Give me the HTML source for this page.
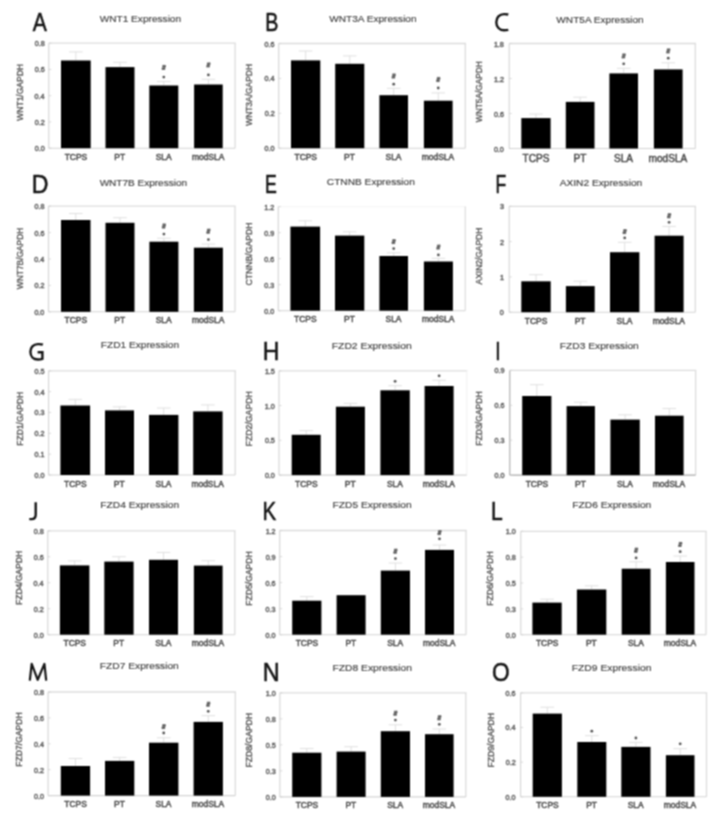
<!DOCTYPE html>
<html><head><meta charset="utf-8"><style>
html,body{margin:0;padding:0;background:#fff;}
body{width:724px;height:821px;overflow:hidden;}
svg{display:block;font-family:"Liberation Sans", sans-serif;}
#w{width:724px;height:821px;filter:grayscale(1);}
</style></head><body>
<div id="w"><svg width="724" height="821" viewBox="0 0 724 821">
<defs><filter id="bl" x="0" y="0" width="724" height="821" filterUnits="userSpaceOnUse" color-interpolation-filters="sRGB"><feConvolveMatrix order="3" kernelMatrix="1 2 1 2 4 2 1 2 1" divisor="16" edgeMode="duplicate"/></filter></defs>
<g filter="url(#bl)">
<rect width="724" height="821" fill="#fff"/>
<text transform="translate(32.85,30.85) scale(0.8301,1)" x="-0.05" y="0" font-size="25.44" fill="#141414" stroke="#141414" stroke-width="0.55">A</text>
<text transform="translate(99.7,21.8) scale(1.0387,1)" x="-0.04" y="0" font-size="9.74" fill="#404040" stroke="#404040" stroke-width="0.15">WNT1 Expression</text>
<line x1="48.8" y1="43.2" x2="235.75" y2="43.2" stroke="#dcdcdc" stroke-width="1.3"/>
<line x1="235.1" y1="43.2" x2="235.1" y2="148.2" stroke="#dcdcdc" stroke-width="1.3"/>
<line x1="48.8" y1="43.2" x2="48.8" y2="148.2" stroke="#d4d4d4" stroke-width="1.1"/>
<line x1="48.8" y1="148.2" x2="235.1" y2="148.2" stroke="#d4d4d4" stroke-width="1.1"/>
<text stroke="#5e5e5e" stroke-width="0.4" transform="translate(34.95,151.2) scale(1.120,1)" x="-0.25" y="0" font-size="6.4" fill="#5e5e5e">0.0</text>
<line x1="48.8" y1="148.2" x2="51.3" y2="148.2" stroke="#d0d0d0" stroke-width="0.8"/>
<text stroke="#5e5e5e" stroke-width="0.4" transform="translate(35.03,124.95) scale(1.120,1)" x="-0.25" y="0" font-size="6.4" fill="#5e5e5e">0.2</text>
<line x1="48.8" y1="121.95" x2="51.3" y2="121.95" stroke="#d0d0d0" stroke-width="0.8"/>
<text stroke="#5e5e5e" stroke-width="0.4" transform="translate(34.88,98.7) scale(1.120,1)" x="-0.25" y="0" font-size="6.4" fill="#5e5e5e">0.4</text>
<line x1="48.8" y1="95.7" x2="51.3" y2="95.7" stroke="#d0d0d0" stroke-width="0.8"/>
<text stroke="#5e5e5e" stroke-width="0.4" transform="translate(34.98,72.45) scale(1.120,1)" x="-0.25" y="0" font-size="6.4" fill="#5e5e5e">0.6</text>
<line x1="48.8" y1="69.45" x2="51.3" y2="69.45" stroke="#d0d0d0" stroke-width="0.8"/>
<text stroke="#5e5e5e" stroke-width="0.4" transform="translate(34.98,46.2) scale(1.120,1)" x="-0.25" y="0" font-size="6.4" fill="#5e5e5e">0.8</text>
<line x1="48.8" y1="43.2" x2="51.3" y2="43.2" stroke="#d0d0d0" stroke-width="0.8"/>
<text stroke="#4c4c4c" stroke-width="0.3" transform="translate(22.7,120.7) rotate(-90) scale(0.9459,1)" x="-0.04" y="0" font-size="9.01" fill="#4c4c4c">WNT1/GAPDH</text>
<line x1="75.85" y1="60.5" x2="75.85" y2="51.9" stroke="#e0e0e0" stroke-width="1"/>
<line x1="69.05" y1="51.9" x2="82.65" y2="51.9" stroke="#e0e0e0" stroke-width="1"/>
<rect x="61" y="60.5" width="29.7" height="87.7" fill="#000"/>
<text transform="translate(64.89,159.7) scale(0.970,1)" x="-0.2" y="0" font-size="8.7" fill="#484848" stroke="#484848" stroke-width="0.45">TCPS</text>
<line x1="120" y1="67.1" x2="120" y2="62.3" stroke="#e0e0e0" stroke-width="1"/>
<line x1="113.2" y1="62.3" x2="126.8" y2="62.3" stroke="#e0e0e0" stroke-width="1"/>
<rect x="105.5" y="67.1" width="29" height="81.1" fill="#000"/>
<text transform="translate(115.05,159.7) scale(0.970,1)" x="-0.71" y="0" font-size="8.7" fill="#484848" stroke="#484848" stroke-width="0.45">PT</text>
<line x1="163.8" y1="85.5" x2="163.8" y2="81.5" stroke="#e0e0e0" stroke-width="1"/>
<line x1="157" y1="81.5" x2="170.6" y2="81.5" stroke="#e0e0e0" stroke-width="1"/>
<rect x="149.3" y="85.5" width="29" height="62.7" fill="#000"/>
<text transform="translate(156.02,159.7) scale(0.970,1)" x="-0.4" y="0" font-size="8.7" fill="#484848" stroke="#484848" stroke-width="0.45">SLA</text>
<line x1="208.4" y1="84.5" x2="208.4" y2="79.3" stroke="#e0e0e0" stroke-width="1"/>
<line x1="201.6" y1="79.3" x2="215.2" y2="79.3" stroke="#e0e0e0" stroke-width="1"/>
<rect x="194.1" y="84.5" width="28.6" height="63.7" fill="#000"/>
<text transform="translate(192.5,159.7) scale(0.970,1)" x="-0.58" y="0" font-size="8.7" fill="#484848" stroke="#484848" stroke-width="0.45">modSLA</text>
<path d="M163.4,64.8L162.5,70M165.1,64.8L164.2,70M162.3,66.4L165.9,66.4M161.7,68.5L165.3,68.5" stroke="#585858" stroke-width="1.25" fill="none"/>
<circle cx="163.8" cy="77.1" r="1.4" fill="#555"/>
<path d="M208,62.3L207.1,67.5M209.7,62.3L208.8,67.5M206.9,63.9L210.5,63.9M206.3,66L209.9,66" stroke="#585858" stroke-width="1.25" fill="none"/>
<circle cx="208.4" cy="74.9" r="1.4" fill="#555"/>
<text transform="translate(266.75,30.85) scale(0.7756,1)" x="-2.09" y="0" font-size="25.44" fill="#141414" stroke="#141414" stroke-width="0.55">B</text>
<text transform="translate(329.3,22.4) scale(1.0205,1)" x="-0.04" y="0" font-size="9.88" fill="#404040" stroke="#404040" stroke-width="0.15">WNT3A Expression</text>
<line x1="278.7" y1="43.5" x2="465.95" y2="43.5" stroke="#dcdcdc" stroke-width="1.3"/>
<line x1="465.3" y1="43.5" x2="465.3" y2="148.2" stroke="#dcdcdc" stroke-width="1.3"/>
<line x1="278.7" y1="43.5" x2="278.7" y2="148.2" stroke="#d4d4d4" stroke-width="1.1"/>
<line x1="278.7" y1="148.2" x2="465.3" y2="148.2" stroke="#d4d4d4" stroke-width="1.1"/>
<text stroke="#5e5e5e" stroke-width="0.4" transform="translate(264.85,151.2) scale(1.120,1)" x="-0.25" y="0" font-size="6.4" fill="#5e5e5e">0.0</text>
<line x1="278.7" y1="148.2" x2="281.2" y2="148.2" stroke="#d0d0d0" stroke-width="0.8"/>
<text stroke="#5e5e5e" stroke-width="0.4" transform="translate(264.93,116.3) scale(1.120,1)" x="-0.25" y="0" font-size="6.4" fill="#5e5e5e">0.2</text>
<line x1="278.7" y1="113.3" x2="281.2" y2="113.3" stroke="#d0d0d0" stroke-width="0.8"/>
<text stroke="#5e5e5e" stroke-width="0.4" transform="translate(264.78,81.4) scale(1.120,1)" x="-0.25" y="0" font-size="6.4" fill="#5e5e5e">0.4</text>
<line x1="278.7" y1="78.4" x2="281.2" y2="78.4" stroke="#d0d0d0" stroke-width="0.8"/>
<text stroke="#5e5e5e" stroke-width="0.4" transform="translate(264.88,46.5) scale(1.120,1)" x="-0.25" y="0" font-size="6.4" fill="#5e5e5e">0.6</text>
<line x1="278.7" y1="43.5" x2="281.2" y2="43.5" stroke="#d0d0d0" stroke-width="0.8"/>
<text stroke="#4c4c4c" stroke-width="0.3" transform="translate(252.3,125.8) rotate(-90) scale(0.9370,1)" x="-0.04" y="0" font-size="9.01" fill="#4c4c4c">WNT3A/GAPDH</text>
<line x1="305.65" y1="60.4" x2="305.65" y2="51" stroke="#e0e0e0" stroke-width="1"/>
<line x1="298.85" y1="51" x2="312.45" y2="51" stroke="#e0e0e0" stroke-width="1"/>
<rect x="291" y="60.4" width="29.3" height="87.8" fill="#000"/>
<text transform="translate(294.69,159.7) scale(0.970,1)" x="-0.2" y="0" font-size="8.7" fill="#484848" stroke="#484848" stroke-width="0.45">TCPS</text>
<line x1="349.75" y1="63.8" x2="349.75" y2="55.9" stroke="#e0e0e0" stroke-width="1"/>
<line x1="342.95" y1="55.9" x2="356.55" y2="55.9" stroke="#e0e0e0" stroke-width="1"/>
<rect x="335.2" y="63.8" width="29.1" height="84.4" fill="#000"/>
<text transform="translate(344.8,159.7) scale(0.970,1)" x="-0.71" y="0" font-size="8.7" fill="#484848" stroke="#484848" stroke-width="0.45">PT</text>
<line x1="393.7" y1="95.2" x2="393.7" y2="88.3" stroke="#e0e0e0" stroke-width="1"/>
<line x1="386.9" y1="88.3" x2="400.5" y2="88.3" stroke="#e0e0e0" stroke-width="1"/>
<rect x="379.4" y="95.2" width="28.6" height="53" fill="#000"/>
<text transform="translate(385.92,159.7) scale(0.970,1)" x="-0.4" y="0" font-size="8.7" fill="#484848" stroke="#484848" stroke-width="0.45">SLA</text>
<line x1="438.25" y1="100.7" x2="438.25" y2="92.9" stroke="#e0e0e0" stroke-width="1"/>
<line x1="431.45" y1="92.9" x2="445.05" y2="92.9" stroke="#e0e0e0" stroke-width="1"/>
<rect x="423.9" y="100.7" width="28.7" height="47.5" fill="#000"/>
<text transform="translate(422.35,159.7) scale(0.970,1)" x="-0.58" y="0" font-size="8.7" fill="#484848" stroke="#484848" stroke-width="0.45">modSLA</text>
<path d="M393.3,73.4L392.4,78.6M395,73.4L394.1,78.6M392.2,75L395.8,75M391.6,77.1L395.2,77.1" stroke="#585858" stroke-width="1.25" fill="none"/>
<circle cx="393.7" cy="84.2" r="1.4" fill="#555"/>
<path d="M437.85,76.9L436.95,82.1M439.55,76.9L438.65,82.1M436.75,78.5L440.35,78.5M436.15,80.6L439.75,80.6" stroke="#585858" stroke-width="1.25" fill="none"/>
<circle cx="438.25" cy="88" r="1.4" fill="#555"/>
<path d="M508.3,14.5C507.0,14.2 505.5,14.1 504.0,14.1C499.4,14.1 496.3,17.6 496.3,22.2C496.3,26.8 499.4,30.3 504.0,30.3C505.5,30.3 507.0,30.2 508.3,29.9" stroke="#141414" stroke-width="2.4" fill="none" stroke-linejoin="round"/>
<text transform="translate(556.4,23.1) scale(1.0205,1)" x="-0.04" y="0" font-size="9.88" fill="#404040" stroke="#404040" stroke-width="0.15">WNT5A Expression</text>
<line x1="509.2" y1="43.5" x2="695.95" y2="43.5" stroke="#dcdcdc" stroke-width="1.3"/>
<line x1="695.3" y1="43.5" x2="695.3" y2="148.5" stroke="#dcdcdc" stroke-width="1.3"/>
<line x1="509.2" y1="43.5" x2="509.2" y2="148.5" stroke="#d4d4d4" stroke-width="1.1"/>
<line x1="509.2" y1="148.5" x2="695.3" y2="148.5" stroke="#d4d4d4" stroke-width="1.1"/>
<text stroke="#5e5e5e" stroke-width="0.4" transform="translate(494.15,151.5) scale(1.120,1)" x="-0.25" y="0" font-size="6.4" fill="#5e5e5e">0.0</text>
<line x1="509.2" y1="148.5" x2="511.7" y2="148.5" stroke="#d0d0d0" stroke-width="0.8"/>
<text stroke="#5e5e5e" stroke-width="0.4" transform="translate(494.18,116.5) scale(1.120,1)" x="-0.25" y="0" font-size="6.4" fill="#5e5e5e">0.6</text>
<line x1="509.2" y1="113.5" x2="511.7" y2="113.5" stroke="#d0d0d0" stroke-width="0.8"/>
<text stroke="#5e5e5e" stroke-width="0.4" transform="translate(494.49,81.5) scale(1.120,1)" x="-0.49" y="0" font-size="6.4" fill="#5e5e5e">1.2</text>
<line x1="509.2" y1="78.5" x2="511.7" y2="78.5" stroke="#d0d0d0" stroke-width="0.8"/>
<text stroke="#5e5e5e" stroke-width="0.4" transform="translate(494.44,46.5) scale(1.120,1)" x="-0.49" y="0" font-size="6.4" fill="#5e5e5e">1.8</text>
<line x1="509.2" y1="43.5" x2="511.7" y2="43.5" stroke="#d0d0d0" stroke-width="0.8"/>
<text stroke="#4c4c4c" stroke-width="0.3" transform="translate(482.3,122.2) rotate(-90) scale(0.9263,1)" x="-0.04" y="0" font-size="9.01" fill="#4c4c4c">WNT5A/GAPDH</text>
<line x1="535.95" y1="118.1" x2="535.95" y2="114" stroke="#e0e0e0" stroke-width="1"/>
<line x1="529.15" y1="114" x2="542.75" y2="114" stroke="#e0e0e0" stroke-width="1"/>
<rect x="521.3" y="118.1" width="29.3" height="30.4" fill="#000"/>
<text transform="translate(522.84,161.9) scale(0.970,1)" x="-0.23" y="0" font-size="10.4" fill="#484848" stroke="#484848" stroke-width="0.45">TCPS</text>
<line x1="580.15" y1="101.9" x2="580.15" y2="97.2" stroke="#e0e0e0" stroke-width="1"/>
<line x1="573.35" y1="97.2" x2="586.95" y2="97.2" stroke="#e0e0e0" stroke-width="1"/>
<rect x="565.8" y="101.9" width="28.7" height="46.6" fill="#000"/>
<text transform="translate(574.23,161.9) scale(0.970,1)" x="-0.85" y="0" font-size="10.4" fill="#484848" stroke="#484848" stroke-width="0.45">PT</text>
<line x1="623.7" y1="73.4" x2="623.7" y2="68.3" stroke="#e0e0e0" stroke-width="1"/>
<line x1="616.9" y1="68.3" x2="630.5" y2="68.3" stroke="#e0e0e0" stroke-width="1"/>
<rect x="609.4" y="73.4" width="28.6" height="75.1" fill="#000"/>
<text transform="translate(614.41,161.9) scale(0.970,1)" x="-0.47" y="0" font-size="10.4" fill="#484848" stroke="#484848" stroke-width="0.45">SLA</text>
<line x1="668.25" y1="69.4" x2="668.25" y2="62.8" stroke="#e0e0e0" stroke-width="1"/>
<line x1="661.45" y1="62.8" x2="675.05" y2="62.8" stroke="#e0e0e0" stroke-width="1"/>
<rect x="653.9" y="69.4" width="28.7" height="79.1" fill="#000"/>
<text transform="translate(649.25,161.9) scale(0.970,1)" x="-0.69" y="0" font-size="10.4" fill="#484848" stroke="#484848" stroke-width="0.45">modSLA</text>
<path d="M623.3,53.3L622.4,58.5M625,53.3L624.1,58.5M622.2,54.9L625.8,54.9M621.6,57L625.2,57" stroke="#585858" stroke-width="1.25" fill="none"/>
<circle cx="623.7" cy="63.8" r="1.4" fill="#555"/>
<path d="M667.85,48.3L666.95,53.5M669.55,48.3L668.65,53.5M666.75,49.9L670.35,49.9M666.15,52L669.75,52" stroke="#585858" stroke-width="1.25" fill="none"/>
<circle cx="668.25" cy="58.2" r="1.4" fill="#555"/>
<text transform="translate(33.75,192.65) scale(0.9199,1)" x="-2.06" y="0" font-size="25.15" fill="#141414" stroke="#141414" stroke-width="0.55">D</text>
<text transform="translate(99.7,185.9) scale(1.0466,1)" x="-0.04" y="0" font-size="9.59" fill="#404040" stroke="#404040" stroke-width="0.15">WNT7B Expression</text>
<line x1="48.5" y1="206.2" x2="235.65" y2="206.2" stroke="#dcdcdc" stroke-width="1.3"/>
<line x1="235" y1="206.2" x2="235" y2="311.8" stroke="#dcdcdc" stroke-width="1.3"/>
<line x1="48.5" y1="206.2" x2="48.5" y2="311.8" stroke="#d4d4d4" stroke-width="1.1"/>
<line x1="48.5" y1="311.8" x2="235" y2="311.8" stroke="#d4d4d4" stroke-width="1.1"/>
<text stroke="#5e5e5e" stroke-width="0.4" transform="translate(34.65,314.8) scale(1.120,1)" x="-0.25" y="0" font-size="6.4" fill="#5e5e5e">0.0</text>
<line x1="48.5" y1="311.8" x2="51" y2="311.8" stroke="#d0d0d0" stroke-width="0.8"/>
<text stroke="#5e5e5e" stroke-width="0.4" transform="translate(34.73,288.4) scale(1.120,1)" x="-0.25" y="0" font-size="6.4" fill="#5e5e5e">0.2</text>
<line x1="48.5" y1="285.4" x2="51" y2="285.4" stroke="#d0d0d0" stroke-width="0.8"/>
<text stroke="#5e5e5e" stroke-width="0.4" transform="translate(34.58,262) scale(1.120,1)" x="-0.25" y="0" font-size="6.4" fill="#5e5e5e">0.4</text>
<line x1="48.5" y1="259" x2="51" y2="259" stroke="#d0d0d0" stroke-width="0.8"/>
<text stroke="#5e5e5e" stroke-width="0.4" transform="translate(34.68,235.6) scale(1.120,1)" x="-0.25" y="0" font-size="6.4" fill="#5e5e5e">0.6</text>
<line x1="48.5" y1="232.6" x2="51" y2="232.6" stroke="#d0d0d0" stroke-width="0.8"/>
<text stroke="#5e5e5e" stroke-width="0.4" transform="translate(34.68,209.2) scale(1.120,1)" x="-0.25" y="0" font-size="6.4" fill="#5e5e5e">0.8</text>
<line x1="48.5" y1="206.2" x2="51" y2="206.2" stroke="#d0d0d0" stroke-width="0.8"/>
<text stroke="#4c4c4c" stroke-width="0.3" transform="translate(22.7,289.1) rotate(-90) scale(0.9308,1)" x="-0.04" y="0" font-size="9.01" fill="#4c4c4c">WNT7B/GAPDH</text>
<line x1="75.75" y1="220" x2="75.75" y2="213.5" stroke="#e0e0e0" stroke-width="1"/>
<line x1="68.95" y1="213.5" x2="82.55" y2="213.5" stroke="#e0e0e0" stroke-width="1"/>
<rect x="61" y="220" width="29.5" height="91.8" fill="#000"/>
<text transform="translate(64.79,323.3) scale(0.970,1)" x="-0.2" y="0" font-size="8.7" fill="#484848" stroke="#484848" stroke-width="0.45">TCPS</text>
<line x1="120" y1="222.8" x2="120" y2="217.7" stroke="#e0e0e0" stroke-width="1"/>
<line x1="113.2" y1="217.7" x2="126.8" y2="217.7" stroke="#e0e0e0" stroke-width="1"/>
<rect x="105.5" y="222.8" width="29" height="89" fill="#000"/>
<text transform="translate(115.05,323.3) scale(0.970,1)" x="-0.71" y="0" font-size="8.7" fill="#484848" stroke="#484848" stroke-width="0.45">PT</text>
<line x1="163.9" y1="241.7" x2="163.9" y2="238.2" stroke="#e0e0e0" stroke-width="1"/>
<line x1="157.1" y1="238.2" x2="170.7" y2="238.2" stroke="#e0e0e0" stroke-width="1"/>
<rect x="149.4" y="241.7" width="29" height="70.1" fill="#000"/>
<text transform="translate(156.12,323.3) scale(0.970,1)" x="-0.4" y="0" font-size="8.7" fill="#484848" stroke="#484848" stroke-width="0.45">SLA</text>
<line x1="208.4" y1="247.7" x2="208.4" y2="244" stroke="#e0e0e0" stroke-width="1"/>
<line x1="201.6" y1="244" x2="215.2" y2="244" stroke="#e0e0e0" stroke-width="1"/>
<rect x="193.9" y="247.7" width="29" height="64.1" fill="#000"/>
<text transform="translate(192.5,323.3) scale(0.970,1)" x="-0.58" y="0" font-size="8.7" fill="#484848" stroke="#484848" stroke-width="0.45">modSLA</text>
<path d="M163.5,223.4L162.6,228.6M165.2,223.4L164.3,228.6M162.4,225L166,225M161.8,227.1L165.4,227.1" stroke="#585858" stroke-width="1.25" fill="none"/>
<circle cx="163.9" cy="234.1" r="1.4" fill="#555"/>
<path d="M208,228.6L207.1,233.8M209.7,228.6L208.8,233.8M206.9,230.2L210.5,230.2M206.3,232.3L209.9,232.3" stroke="#585858" stroke-width="1.25" fill="none"/>
<circle cx="208.4" cy="239.6" r="1.4" fill="#555"/>
<text transform="translate(266.45,192.65) scale(0.7044,1)" x="-2.06" y="0" font-size="25.15" fill="#141414" stroke="#141414" stroke-width="0.55">E</text>
<text transform="translate(327.3,185.1) scale(1.0291,1)" x="-0.5" y="0" font-size="9.88" fill="#404040" stroke="#404040" stroke-width="0.15">CTNNB Expression</text>
<line x1="278.3" y1="206.6" x2="465.95" y2="206.6" stroke="#f6f6f6" stroke-width="1.3"/>
<line x1="465.3" y1="206.6" x2="465.3" y2="310.7" stroke="#e0e0e0" stroke-width="1.3"/>
<line x1="278.3" y1="206.6" x2="278.3" y2="310.7" stroke="#d4d4d4" stroke-width="1.1"/>
<line x1="278.3" y1="310.7" x2="465.3" y2="310.7" stroke="#d4d4d4" stroke-width="1.1"/>
<text stroke="#5e5e5e" stroke-width="0.4" transform="translate(264.45,313.7) scale(1.120,1)" x="-0.25" y="0" font-size="6.4" fill="#5e5e5e">0.0</text>
<line x1="278.3" y1="310.7" x2="280.8" y2="310.7" stroke="#d0d0d0" stroke-width="0.8"/>
<text stroke="#5e5e5e" stroke-width="0.4" transform="translate(264.48,287.68) scale(1.120,1)" x="-0.25" y="0" font-size="6.4" fill="#5e5e5e">0.3</text>
<line x1="278.3" y1="284.68" x2="280.8" y2="284.68" stroke="#d0d0d0" stroke-width="0.8"/>
<text stroke="#5e5e5e" stroke-width="0.4" transform="translate(264.48,261.65) scale(1.120,1)" x="-0.25" y="0" font-size="6.4" fill="#5e5e5e">0.6</text>
<line x1="278.3" y1="258.65" x2="280.8" y2="258.65" stroke="#d0d0d0" stroke-width="0.8"/>
<text stroke="#5e5e5e" stroke-width="0.4" transform="translate(264.5,235.63) scale(1.120,1)" x="-0.25" y="0" font-size="6.4" fill="#5e5e5e">0.9</text>
<line x1="278.3" y1="232.62" x2="280.8" y2="232.62" stroke="#d0d0d0" stroke-width="0.8"/>
<text stroke="#5e5e5e" stroke-width="0.4" transform="translate(264.79,209.6) scale(1.120,1)" x="-0.49" y="0" font-size="6.4" fill="#5e5e5e">1.2</text>
<line x1="278.3" y1="206.6" x2="280.8" y2="206.6" stroke="#d0d0d0" stroke-width="0.8"/>
<text stroke="#4c4c4c" stroke-width="0.3" transform="translate(252.3,285.1) rotate(-90) scale(0.9612,1)" x="-0.46" y="0" font-size="9.01" fill="#4c4c4c">CTNNB/GAPDH</text>
<line x1="305.25" y1="226.6" x2="305.25" y2="220.8" stroke="#e0e0e0" stroke-width="1"/>
<line x1="298.45" y1="220.8" x2="312.05" y2="220.8" stroke="#e0e0e0" stroke-width="1"/>
<rect x="290.4" y="226.6" width="29.7" height="84.1" fill="#000"/>
<text transform="translate(294.29,322.2) scale(0.970,1)" x="-0.2" y="0" font-size="8.7" fill="#484848" stroke="#484848" stroke-width="0.45">TCPS</text>
<line x1="349.65" y1="235.6" x2="349.65" y2="231.8" stroke="#e0e0e0" stroke-width="1"/>
<line x1="342.85" y1="231.8" x2="356.45" y2="231.8" stroke="#e0e0e0" stroke-width="1"/>
<rect x="335" y="235.6" width="29.3" height="75.1" fill="#000"/>
<text transform="translate(344.7,322.2) scale(0.970,1)" x="-0.71" y="0" font-size="8.7" fill="#484848" stroke="#484848" stroke-width="0.45">PT</text>
<line x1="393.7" y1="256" x2="393.7" y2="252.8" stroke="#e0e0e0" stroke-width="1"/>
<line x1="386.9" y1="252.8" x2="400.5" y2="252.8" stroke="#e0e0e0" stroke-width="1"/>
<rect x="379.4" y="256" width="28.6" height="54.7" fill="#000"/>
<text transform="translate(385.92,322.2) scale(0.970,1)" x="-0.4" y="0" font-size="8.7" fill="#484848" stroke="#484848" stroke-width="0.45">SLA</text>
<line x1="438.4" y1="261.5" x2="438.4" y2="258.3" stroke="#e0e0e0" stroke-width="1"/>
<line x1="431.6" y1="258.3" x2="445.2" y2="258.3" stroke="#e0e0e0" stroke-width="1"/>
<rect x="423.9" y="261.5" width="29" height="49.2" fill="#000"/>
<text transform="translate(422.5,322.2) scale(0.970,1)" x="-0.58" y="0" font-size="8.7" fill="#484848" stroke="#484848" stroke-width="0.45">modSLA</text>
<path d="M393.3,239L392.4,244.2M395,239L394.1,244.2M392.2,240.6L395.8,240.6M391.6,242.7L395.2,242.7" stroke="#585858" stroke-width="1.25" fill="none"/>
<circle cx="393.7" cy="248.6" r="1.4" fill="#555"/>
<path d="M438,244.5L437.1,249.7M439.7,244.5L438.8,249.7M436.9,246.1L440.5,246.1M436.3,248.2L439.9,248.2" stroke="#585858" stroke-width="1.25" fill="none"/>
<circle cx="438.4" cy="254.9" r="1.4" fill="#555"/>
<text transform="translate(496.95,192.65) scale(0.6997,1)" x="-2.06" y="0" font-size="25.15" fill="#141414" stroke="#141414" stroke-width="0.55">F</text>
<text transform="translate(559.7,185.6) scale(1.0634,1)" x="-0.02" y="0" font-size="9.59" fill="#404040" stroke="#404040" stroke-width="0.15">AXIN2 Expression</text>
<line x1="509.2" y1="206.3" x2="695.95" y2="206.3" stroke="#dcdcdc" stroke-width="1.3"/>
<line x1="695.3" y1="206.3" x2="695.3" y2="312.2" stroke="#dcdcdc" stroke-width="1.3"/>
<line x1="509.2" y1="206.3" x2="509.2" y2="312.2" stroke="#d4d4d4" stroke-width="1.1"/>
<line x1="509.2" y1="312.2" x2="695.3" y2="312.2" stroke="#d4d4d4" stroke-width="1.1"/>
<text stroke="#5e5e5e" stroke-width="0.4" transform="translate(500.12,315.2) scale(1.120,1)" x="-0.25" y="0" font-size="6.4" fill="#5e5e5e">0</text>
<line x1="509.2" y1="312.2" x2="511.7" y2="312.2" stroke="#d0d0d0" stroke-width="0.8"/>
<text stroke="#5e5e5e" stroke-width="0.4" transform="translate(500.46,279.9) scale(1.120,1)" x="-0.49" y="0" font-size="6.4" fill="#5e5e5e">1</text>
<line x1="509.2" y1="276.9" x2="511.7" y2="276.9" stroke="#d0d0d0" stroke-width="0.8"/>
<text stroke="#5e5e5e" stroke-width="0.4" transform="translate(500.28,244.6) scale(1.120,1)" x="-0.32" y="0" font-size="6.4" fill="#5e5e5e">2</text>
<line x1="509.2" y1="241.6" x2="511.7" y2="241.6" stroke="#d0d0d0" stroke-width="0.8"/>
<text stroke="#5e5e5e" stroke-width="0.4" transform="translate(500.15,209.3) scale(1.120,1)" x="-0.24" y="0" font-size="6.4" fill="#5e5e5e">3</text>
<line x1="509.2" y1="206.3" x2="511.7" y2="206.3" stroke="#d0d0d0" stroke-width="0.8"/>
<text stroke="#4c4c4c" stroke-width="0.3" transform="translate(482.3,284.4) rotate(-90) scale(0.9375,1)" x="-0.02" y="0" font-size="9.01" fill="#4c4c4c">AXIN2/GAPDH</text>
<line x1="536" y1="281.3" x2="536" y2="274.7" stroke="#e0e0e0" stroke-width="1"/>
<line x1="529.2" y1="274.7" x2="542.8" y2="274.7" stroke="#e0e0e0" stroke-width="1"/>
<rect x="521.3" y="281.3" width="29.4" height="30.9" fill="#000"/>
<text transform="translate(525.04,323.7) scale(0.970,1)" x="-0.2" y="0" font-size="8.7" fill="#484848" stroke="#484848" stroke-width="0.45">TCPS</text>
<line x1="580.3" y1="286.1" x2="580.3" y2="281.2" stroke="#e0e0e0" stroke-width="1"/>
<line x1="573.5" y1="281.2" x2="587.1" y2="281.2" stroke="#e0e0e0" stroke-width="1"/>
<rect x="565.9" y="286.1" width="28.8" height="26.1" fill="#000"/>
<text transform="translate(575.35,323.7) scale(0.970,1)" x="-0.71" y="0" font-size="8.7" fill="#484848" stroke="#484848" stroke-width="0.45">PT</text>
<line x1="624.7" y1="252.2" x2="624.7" y2="242.3" stroke="#e0e0e0" stroke-width="1"/>
<line x1="617.9" y1="242.3" x2="631.5" y2="242.3" stroke="#e0e0e0" stroke-width="1"/>
<rect x="610" y="252.2" width="29.4" height="60" fill="#000"/>
<text transform="translate(616.92,323.7) scale(0.970,1)" x="-0.4" y="0" font-size="8.7" fill="#484848" stroke="#484848" stroke-width="0.45">SLA</text>
<line x1="669.1" y1="235.7" x2="669.1" y2="226.4" stroke="#e0e0e0" stroke-width="1"/>
<line x1="662.3" y1="226.4" x2="675.9" y2="226.4" stroke="#e0e0e0" stroke-width="1"/>
<rect x="654.6" y="235.7" width="29" height="76.5" fill="#000"/>
<text transform="translate(653.2,323.7) scale(0.970,1)" x="-0.58" y="0" font-size="8.7" fill="#484848" stroke="#484848" stroke-width="0.45">modSLA</text>
<path d="M624.3,229L623.4,234.2M626,229L625.1,234.2M623.2,230.6L626.8,230.6M622.6,232.7L626.2,232.7" stroke="#585858" stroke-width="1.25" fill="none"/>
<circle cx="624.7" cy="237.9" r="1.4" fill="#555"/>
<path d="M668.7,213.1L667.8,218.3M670.4,213.1L669.5,218.3M667.6,214.7L671.2,214.7M667,216.8L670.6,216.8" stroke="#585858" stroke-width="1.25" fill="none"/>
<circle cx="669.1" cy="222.3" r="1.4" fill="#555"/>
<path d="M42.9,344.6C41.4,344.0 39.7,344.1 37.9,344.1C33.2,344.1 30.4,347.5 30.4,351.8C30.4,356.3 33.3,359.5 37.9,359.5C39.6,359.5 41.1,359.3 42.4,358.8L42.4,352.3L37.6,352.3" stroke="#141414" stroke-width="2.4" fill="none" stroke-linejoin="miter"/>
<text transform="translate(101.6,348.1) scale(1.0909,1)" x="-0.76" y="0" font-size="9.3" fill="#404040" stroke="#404040" stroke-width="0.15">FZD1 Expression</text>
<line x1="48.6" y1="370.8" x2="235.85" y2="370.8" stroke="#dcdcdc" stroke-width="1.3"/>
<line x1="235.2" y1="370.8" x2="235.2" y2="475" stroke="#dcdcdc" stroke-width="1.3"/>
<line x1="48.6" y1="370.8" x2="48.6" y2="475" stroke="#d4d4d4" stroke-width="1.1"/>
<line x1="48.6" y1="475" x2="235.2" y2="475" stroke="#d4d4d4" stroke-width="1.1"/>
<text stroke="#5e5e5e" stroke-width="0.4" transform="translate(34.75,478) scale(1.120,1)" x="-0.25" y="0" font-size="6.4" fill="#5e5e5e">0.0</text>
<line x1="48.6" y1="475" x2="51.1" y2="475" stroke="#d0d0d0" stroke-width="0.8"/>
<text stroke="#5e5e5e" stroke-width="0.4" transform="translate(34.82,457.16) scale(1.120,1)" x="-0.25" y="0" font-size="6.4" fill="#5e5e5e">0.1</text>
<line x1="48.6" y1="454.16" x2="51.1" y2="454.16" stroke="#d0d0d0" stroke-width="0.8"/>
<text stroke="#5e5e5e" stroke-width="0.4" transform="translate(34.83,436.32) scale(1.120,1)" x="-0.25" y="0" font-size="6.4" fill="#5e5e5e">0.2</text>
<line x1="48.6" y1="433.32" x2="51.1" y2="433.32" stroke="#d0d0d0" stroke-width="0.8"/>
<text stroke="#5e5e5e" stroke-width="0.4" transform="translate(34.78,415.48) scale(1.120,1)" x="-0.25" y="0" font-size="6.4" fill="#5e5e5e">0.3</text>
<line x1="48.6" y1="412.48" x2="51.1" y2="412.48" stroke="#d0d0d0" stroke-width="0.8"/>
<text stroke="#5e5e5e" stroke-width="0.4" transform="translate(34.68,394.64) scale(1.120,1)" x="-0.25" y="0" font-size="6.4" fill="#5e5e5e">0.4</text>
<line x1="48.6" y1="391.64" x2="51.1" y2="391.64" stroke="#d0d0d0" stroke-width="0.8"/>
<text stroke="#5e5e5e" stroke-width="0.4" transform="translate(34.77,373.8) scale(1.120,1)" x="-0.25" y="0" font-size="6.4" fill="#5e5e5e">0.5</text>
<line x1="48.6" y1="370.8" x2="51.1" y2="370.8" stroke="#d0d0d0" stroke-width="0.8"/>
<text stroke="#4c4c4c" stroke-width="0.3" transform="translate(22.7,445) rotate(-90) scale(0.9424,1)" x="-0.74" y="0" font-size="9.01" fill="#4c4c4c">FZD1/GAPDH</text>
<line x1="75.25" y1="405.5" x2="75.25" y2="399.4" stroke="#e0e0e0" stroke-width="1"/>
<line x1="68.45" y1="399.4" x2="82.05" y2="399.4" stroke="#e0e0e0" stroke-width="1"/>
<rect x="60.4" y="405.5" width="29.7" height="69.5" fill="#000"/>
<text transform="translate(64.29,486.5) scale(0.970,1)" x="-0.2" y="0" font-size="8.7" fill="#484848" stroke="#484848" stroke-width="0.45">TCPS</text>
<line x1="119.5" y1="410.4" x2="119.5" y2="406.9" stroke="#e0e0e0" stroke-width="1"/>
<line x1="112.7" y1="406.9" x2="126.3" y2="406.9" stroke="#e0e0e0" stroke-width="1"/>
<rect x="105" y="410.4" width="29" height="64.6" fill="#000"/>
<text transform="translate(114.55,486.5) scale(0.970,1)" x="-0.71" y="0" font-size="8.7" fill="#484848" stroke="#484848" stroke-width="0.45">PT</text>
<line x1="163.7" y1="414.9" x2="163.7" y2="408" stroke="#e0e0e0" stroke-width="1"/>
<line x1="156.9" y1="408" x2="170.5" y2="408" stroke="#e0e0e0" stroke-width="1"/>
<rect x="149" y="414.9" width="29.4" height="60.1" fill="#000"/>
<text transform="translate(155.92,486.5) scale(0.970,1)" x="-0.4" y="0" font-size="8.7" fill="#484848" stroke="#484848" stroke-width="0.45">SLA</text>
<line x1="207.9" y1="411.4" x2="207.9" y2="404.9" stroke="#e0e0e0" stroke-width="1"/>
<line x1="201.1" y1="404.9" x2="214.7" y2="404.9" stroke="#e0e0e0" stroke-width="1"/>
<rect x="193.2" y="411.4" width="29.4" height="63.6" fill="#000"/>
<text transform="translate(192,486.5) scale(0.970,1)" x="-0.58" y="0" font-size="8.7" fill="#484848" stroke="#484848" stroke-width="0.45">modSLA</text>
<text transform="translate(264.55,359.85) scale(0.9184,1)" x="-2.06" y="0" font-size="25.15" fill="#141414" stroke="#141414" stroke-width="0.55">H</text>
<text transform="translate(332.6,349.1) scale(1.1136,1)" x="-0.76" y="0" font-size="9.3" fill="#404040" stroke="#404040" stroke-width="0.15">FZD2 Expression</text>
<line x1="279" y1="370.8" x2="467.35" y2="370.8" stroke="#dcdcdc" stroke-width="1.3"/>
<line x1="466.7" y1="370.8" x2="466.7" y2="475.1" stroke="#f4f4f4" stroke-width="1.3"/>
<line x1="279" y1="370.8" x2="279" y2="475.1" stroke="#d4d4d4" stroke-width="1.1"/>
<line x1="279" y1="475.1" x2="466.7" y2="475.1" stroke="#d4d4d4" stroke-width="1.1"/>
<text stroke="#5e5e5e" stroke-width="0.4" transform="translate(265.15,478.1) scale(1.120,1)" x="-0.25" y="0" font-size="6.4" fill="#5e5e5e">0.0</text>
<line x1="279" y1="475.1" x2="281.5" y2="475.1" stroke="#d0d0d0" stroke-width="0.8"/>
<text stroke="#5e5e5e" stroke-width="0.4" transform="translate(265.17,443.33) scale(1.120,1)" x="-0.25" y="0" font-size="6.4" fill="#5e5e5e">0.5</text>
<line x1="279" y1="440.33" x2="281.5" y2="440.33" stroke="#d0d0d0" stroke-width="0.8"/>
<text stroke="#5e5e5e" stroke-width="0.4" transform="translate(265.41,408.57) scale(1.120,1)" x="-0.49" y="0" font-size="6.4" fill="#5e5e5e">1.0</text>
<line x1="279" y1="405.57" x2="281.5" y2="405.57" stroke="#d0d0d0" stroke-width="0.8"/>
<text stroke="#5e5e5e" stroke-width="0.4" transform="translate(265.43,373.8) scale(1.120,1)" x="-0.49" y="0" font-size="6.4" fill="#5e5e5e">1.5</text>
<line x1="279" y1="370.8" x2="281.5" y2="370.8" stroke="#d0d0d0" stroke-width="0.8"/>
<text stroke="#4c4c4c" stroke-width="0.3" transform="translate(252.3,445.7) rotate(-90) scale(0.9693,1)" x="-0.74" y="0" font-size="9.01" fill="#4c4c4c">FZD2/GAPDH</text>
<line x1="306.2" y1="434.8" x2="306.2" y2="430.6" stroke="#e0e0e0" stroke-width="1"/>
<line x1="299.4" y1="430.6" x2="313" y2="430.6" stroke="#e0e0e0" stroke-width="1"/>
<rect x="291.7" y="434.8" width="29" height="40.3" fill="#000"/>
<text transform="translate(295.24,486.6) scale(0.970,1)" x="-0.2" y="0" font-size="8.7" fill="#484848" stroke="#484848" stroke-width="0.45">TCPS</text>
<line x1="350.4" y1="406.7" x2="350.4" y2="403.3" stroke="#e0e0e0" stroke-width="1"/>
<line x1="343.6" y1="403.3" x2="357.2" y2="403.3" stroke="#e0e0e0" stroke-width="1"/>
<rect x="335.9" y="406.7" width="29" height="68.4" fill="#000"/>
<text transform="translate(345.45,486.6) scale(0.970,1)" x="-0.71" y="0" font-size="8.7" fill="#484848" stroke="#484848" stroke-width="0.45">PT</text>
<line x1="395.1" y1="390.3" x2="395.1" y2="385.7" stroke="#e0e0e0" stroke-width="1"/>
<line x1="388.3" y1="385.7" x2="401.9" y2="385.7" stroke="#e0e0e0" stroke-width="1"/>
<rect x="380.4" y="390.3" width="29.4" height="84.8" fill="#000"/>
<text transform="translate(387.32,486.6) scale(0.970,1)" x="-0.4" y="0" font-size="8.7" fill="#484848" stroke="#484848" stroke-width="0.45">SLA</text>
<line x1="439.1" y1="386" x2="439.1" y2="380.2" stroke="#e0e0e0" stroke-width="1"/>
<line x1="432.3" y1="380.2" x2="445.9" y2="380.2" stroke="#e0e0e0" stroke-width="1"/>
<rect x="424.6" y="386" width="29" height="89.1" fill="#000"/>
<text transform="translate(423.2,486.6) scale(0.970,1)" x="-0.58" y="0" font-size="8.7" fill="#484848" stroke="#484848" stroke-width="0.45">modSLA</text>
<circle cx="395.1" cy="381.3" r="1.4" fill="#555"/>
<circle cx="439.1" cy="375.8" r="1.4" fill="#555"/>
<text transform="translate(496.95,359.85) scale(0.7676,1)" x="-2.32" y="0" font-size="25.15" fill="#141414" stroke="#141414" stroke-width="0.55">I</text>
<text transform="translate(560.7,349.1) scale(1.0995,1)" x="-0.76" y="0" font-size="9.3" fill="#404040" stroke="#404040" stroke-width="0.15">FZD3 Expression</text>
<line x1="509.8" y1="370.4" x2="696.25" y2="370.4" stroke="#dcdcdc" stroke-width="1.3"/>
<line x1="695.6" y1="370.4" x2="695.6" y2="475.1" stroke="#dcdcdc" stroke-width="1.3"/>
<line x1="509.8" y1="370.4" x2="509.8" y2="475.1" stroke="#aaa" stroke-width="1.1"/>
<line x1="509.8" y1="475.1" x2="695.6" y2="475.1" stroke="#aaa" stroke-width="1.1"/>
<text stroke="#5e5e5e" stroke-width="0.4" transform="translate(494.75,478.1) scale(1.120,1)" x="-0.25" y="0" font-size="6.4" fill="#5e5e5e">0.0</text>
<line x1="509.8" y1="475.1" x2="512.3" y2="475.1" stroke="#d0d0d0" stroke-width="0.8"/>
<text stroke="#5e5e5e" stroke-width="0.4" transform="translate(494.78,443.2) scale(1.120,1)" x="-0.25" y="0" font-size="6.4" fill="#5e5e5e">0.3</text>
<line x1="509.8" y1="440.2" x2="512.3" y2="440.2" stroke="#d0d0d0" stroke-width="0.8"/>
<text stroke="#5e5e5e" stroke-width="0.4" transform="translate(494.78,408.3) scale(1.120,1)" x="-0.25" y="0" font-size="6.4" fill="#5e5e5e">0.6</text>
<line x1="509.8" y1="405.3" x2="512.3" y2="405.3" stroke="#d0d0d0" stroke-width="0.8"/>
<text stroke="#5e5e5e" stroke-width="0.4" transform="translate(494.81,373.4) scale(1.120,1)" x="-0.25" y="0" font-size="6.4" fill="#5e5e5e">0.9</text>
<line x1="509.8" y1="370.4" x2="512.3" y2="370.4" stroke="#d0d0d0" stroke-width="0.8"/>
<text stroke="#4c4c4c" stroke-width="0.3" transform="translate(482.3,445) rotate(-90) scale(0.9567,1)" x="-0.74" y="0" font-size="9.01" fill="#4c4c4c">FZD3/GAPDH</text>
<line x1="536.8" y1="396" x2="536.8" y2="384.7" stroke="#e0e0e0" stroke-width="1"/>
<line x1="530" y1="384.7" x2="543.6" y2="384.7" stroke="#e0e0e0" stroke-width="1"/>
<rect x="522.2" y="396" width="29.2" height="79.1" fill="#000"/>
<text transform="translate(525.84,486.6) scale(0.970,1)" x="-0.2" y="0" font-size="8.7" fill="#484848" stroke="#484848" stroke-width="0.45">TCPS</text>
<line x1="580.75" y1="406.1" x2="580.75" y2="402.2" stroke="#e0e0e0" stroke-width="1"/>
<line x1="573.95" y1="402.2" x2="587.55" y2="402.2" stroke="#e0e0e0" stroke-width="1"/>
<rect x="566.6" y="406.1" width="28.3" height="69" fill="#000"/>
<text transform="translate(575.8,486.6) scale(0.970,1)" x="-0.71" y="0" font-size="8.7" fill="#484848" stroke="#484848" stroke-width="0.45">PT</text>
<line x1="625.1" y1="419.6" x2="625.1" y2="414.8" stroke="#e0e0e0" stroke-width="1"/>
<line x1="618.3" y1="414.8" x2="631.9" y2="414.8" stroke="#e0e0e0" stroke-width="1"/>
<rect x="610.4" y="419.6" width="29.4" height="55.5" fill="#000"/>
<text transform="translate(617.32,486.6) scale(0.970,1)" x="-0.4" y="0" font-size="8.7" fill="#484848" stroke="#484848" stroke-width="0.45">SLA</text>
<line x1="669.3" y1="415.7" x2="669.3" y2="408.5" stroke="#e0e0e0" stroke-width="1"/>
<line x1="662.5" y1="408.5" x2="676.1" y2="408.5" stroke="#e0e0e0" stroke-width="1"/>
<rect x="655" y="415.7" width="28.6" height="59.4" fill="#000"/>
<text transform="translate(653.4,486.6) scale(0.970,1)" x="-0.58" y="0" font-size="8.7" fill="#484848" stroke="#484848" stroke-width="0.45">modSLA</text>
<path d="M35.7,502.3L35.7,514.8C35.7,517.8 34.2,519.1 31.6,519.1L29.3,519.1" stroke="#141414" stroke-width="2.4" fill="none" stroke-linejoin="round"/>
<text transform="translate(101.2,508.1) scale(1.0797,1)" x="-0.78" y="0" font-size="9.45" fill="#404040" stroke="#404040" stroke-width="0.15">FZD4 Expression</text>
<line x1="47.8" y1="530.8" x2="235.45" y2="530.8" stroke="#dcdcdc" stroke-width="1.3"/>
<line x1="234.8" y1="530.8" x2="234.8" y2="634.7" stroke="#dcdcdc" stroke-width="1.3"/>
<line x1="47.8" y1="530.8" x2="47.8" y2="634.7" stroke="#d4d4d4" stroke-width="1.1"/>
<line x1="47.8" y1="634.7" x2="234.8" y2="634.7" stroke="#d4d4d4" stroke-width="1.1"/>
<text stroke="#5e5e5e" stroke-width="0.4" transform="translate(33.95,637.7) scale(1.120,1)" x="-0.25" y="0" font-size="6.4" fill="#5e5e5e">0.0</text>
<line x1="47.8" y1="634.7" x2="50.3" y2="634.7" stroke="#d0d0d0" stroke-width="0.8"/>
<text stroke="#5e5e5e" stroke-width="0.4" transform="translate(34.03,611.73) scale(1.120,1)" x="-0.25" y="0" font-size="6.4" fill="#5e5e5e">0.2</text>
<line x1="47.8" y1="608.73" x2="50.3" y2="608.73" stroke="#d0d0d0" stroke-width="0.8"/>
<text stroke="#5e5e5e" stroke-width="0.4" transform="translate(33.88,585.75) scale(1.120,1)" x="-0.25" y="0" font-size="6.4" fill="#5e5e5e">0.4</text>
<line x1="47.8" y1="582.75" x2="50.3" y2="582.75" stroke="#d0d0d0" stroke-width="0.8"/>
<text stroke="#5e5e5e" stroke-width="0.4" transform="translate(33.98,559.78) scale(1.120,1)" x="-0.25" y="0" font-size="6.4" fill="#5e5e5e">0.6</text>
<line x1="47.8" y1="556.77" x2="50.3" y2="556.77" stroke="#d0d0d0" stroke-width="0.8"/>
<text stroke="#5e5e5e" stroke-width="0.4" transform="translate(33.98,533.8) scale(1.120,1)" x="-0.25" y="0" font-size="6.4" fill="#5e5e5e">0.8</text>
<line x1="47.8" y1="530.8" x2="50.3" y2="530.8" stroke="#d0d0d0" stroke-width="0.8"/>
<text stroke="#4c4c4c" stroke-width="0.3" transform="translate(21.8,604.3) rotate(-90) scale(0.9495,1)" x="-0.74" y="0" font-size="9.01" fill="#4c4c4c">FZD4/GAPDH</text>
<line x1="74.65" y1="565.4" x2="74.65" y2="560.9" stroke="#e0e0e0" stroke-width="1"/>
<line x1="67.85" y1="560.9" x2="81.45" y2="560.9" stroke="#e0e0e0" stroke-width="1"/>
<rect x="59.9" y="565.4" width="29.5" height="69.3" fill="#000"/>
<text transform="translate(63.69,646.2) scale(0.970,1)" x="-0.2" y="0" font-size="8.7" fill="#484848" stroke="#484848" stroke-width="0.45">TCPS</text>
<line x1="118.95" y1="561.6" x2="118.95" y2="556.7" stroke="#e0e0e0" stroke-width="1"/>
<line x1="112.15" y1="556.7" x2="125.75" y2="556.7" stroke="#e0e0e0" stroke-width="1"/>
<rect x="104.3" y="561.6" width="29.3" height="73.1" fill="#000"/>
<text transform="translate(114,646.2) scale(0.970,1)" x="-0.71" y="0" font-size="8.7" fill="#484848" stroke="#484848" stroke-width="0.45">PT</text>
<line x1="163.5" y1="559.8" x2="163.5" y2="552.4" stroke="#e0e0e0" stroke-width="1"/>
<line x1="156.7" y1="552.4" x2="170.3" y2="552.4" stroke="#e0e0e0" stroke-width="1"/>
<rect x="149" y="559.8" width="29" height="74.9" fill="#000"/>
<text transform="translate(155.72,646.2) scale(0.970,1)" x="-0.4" y="0" font-size="8.7" fill="#484848" stroke="#484848" stroke-width="0.45">SLA</text>
<line x1="208.25" y1="565.6" x2="208.25" y2="560.7" stroke="#e0e0e0" stroke-width="1"/>
<line x1="201.45" y1="560.7" x2="215.05" y2="560.7" stroke="#e0e0e0" stroke-width="1"/>
<rect x="193.9" y="565.6" width="28.7" height="69.1" fill="#000"/>
<text transform="translate(192.35,646.2) scale(0.970,1)" x="-0.58" y="0" font-size="8.7" fill="#484848" stroke="#484848" stroke-width="0.45">modSLA</text>
<text transform="translate(264.25,519.95) scale(0.8179,1)" x="-2.06" y="0" font-size="25.15" fill="#141414" stroke="#141414" stroke-width="0.55">K</text>
<text transform="translate(333.4,508.4) scale(1.0374,1)" x="-0.81" y="0" font-size="9.88" fill="#404040" stroke="#404040" stroke-width="0.15">FZD5 Expression</text>
<line x1="279.7" y1="530.5" x2="466.65" y2="530.5" stroke="#dcdcdc" stroke-width="1.3"/>
<line x1="466" y1="530.5" x2="466" y2="634.7" stroke="#dcdcdc" stroke-width="1.3"/>
<line x1="279.7" y1="530.5" x2="279.7" y2="634.7" stroke="#d4d4d4" stroke-width="1.1"/>
<line x1="279.7" y1="634.7" x2="466" y2="634.7" stroke="#d4d4d4" stroke-width="1.1"/>
<text stroke="#5e5e5e" stroke-width="0.4" transform="translate(265.85,637.7) scale(1.120,1)" x="-0.25" y="0" font-size="6.4" fill="#5e5e5e">0.0</text>
<line x1="279.7" y1="634.7" x2="282.2" y2="634.7" stroke="#d0d0d0" stroke-width="0.8"/>
<text stroke="#5e5e5e" stroke-width="0.4" transform="translate(265.88,611.65) scale(1.120,1)" x="-0.25" y="0" font-size="6.4" fill="#5e5e5e">0.3</text>
<line x1="279.7" y1="608.65" x2="282.2" y2="608.65" stroke="#d0d0d0" stroke-width="0.8"/>
<text stroke="#5e5e5e" stroke-width="0.4" transform="translate(265.88,585.6) scale(1.120,1)" x="-0.25" y="0" font-size="6.4" fill="#5e5e5e">0.6</text>
<line x1="279.7" y1="582.6" x2="282.2" y2="582.6" stroke="#d0d0d0" stroke-width="0.8"/>
<text stroke="#5e5e5e" stroke-width="0.4" transform="translate(265.9,559.55) scale(1.120,1)" x="-0.25" y="0" font-size="6.4" fill="#5e5e5e">0.9</text>
<line x1="279.7" y1="556.55" x2="282.2" y2="556.55" stroke="#d0d0d0" stroke-width="0.8"/>
<text stroke="#5e5e5e" stroke-width="0.4" transform="translate(266.19,533.5) scale(1.120,1)" x="-0.49" y="0" font-size="6.4" fill="#5e5e5e">1.2</text>
<line x1="279.7" y1="530.5" x2="282.2" y2="530.5" stroke="#d0d0d0" stroke-width="0.8"/>
<text stroke="#4c4c4c" stroke-width="0.3" transform="translate(252.3,605) rotate(-90) scale(0.9567,1)" x="-0.74" y="0" font-size="9.01" fill="#4c4c4c">FZD5/GAPDH</text>
<line x1="306.8" y1="600.7" x2="306.8" y2="596.6" stroke="#e0e0e0" stroke-width="1"/>
<line x1="300" y1="596.6" x2="313.6" y2="596.6" stroke="#e0e0e0" stroke-width="1"/>
<rect x="292.2" y="600.7" width="29.2" height="34" fill="#000"/>
<text transform="translate(295.84,646.2) scale(0.970,1)" x="-0.2" y="0" font-size="8.7" fill="#484848" stroke="#484848" stroke-width="0.45">TCPS</text>
<rect x="336.6" y="595.2" width="29" height="39.5" fill="#000"/>
<text transform="translate(346.15,646.2) scale(0.970,1)" x="-0.71" y="0" font-size="8.7" fill="#484848" stroke="#484848" stroke-width="0.45">PT</text>
<line x1="395.4" y1="570.6" x2="395.4" y2="563" stroke="#e0e0e0" stroke-width="1"/>
<line x1="388.6" y1="563" x2="402.2" y2="563" stroke="#e0e0e0" stroke-width="1"/>
<rect x="380.8" y="570.6" width="29.2" height="64.1" fill="#000"/>
<text transform="translate(387.62,646.2) scale(0.970,1)" x="-0.4" y="0" font-size="8.7" fill="#484848" stroke="#484848" stroke-width="0.45">SLA</text>
<line x1="439.5" y1="549.9" x2="439.5" y2="545" stroke="#e0e0e0" stroke-width="1"/>
<line x1="432.7" y1="545" x2="446.3" y2="545" stroke="#e0e0e0" stroke-width="1"/>
<rect x="425" y="549.9" width="29" height="84.8" fill="#000"/>
<text transform="translate(423.6,646.2) scale(0.970,1)" x="-0.58" y="0" font-size="8.7" fill="#484848" stroke="#484848" stroke-width="0.45">modSLA</text>
<path d="M395,548.6L394.1,553.8M396.7,548.6L395.8,553.8M393.9,550.2L397.5,550.2M393.3,552.3L396.9,552.3" stroke="#585858" stroke-width="1.25" fill="none"/>
<circle cx="395.4" cy="558.6" r="1.4" fill="#555"/>
<path d="M439.1,530L438.2,535.2M440.8,530L439.9,535.2M438,531.6L441.6,531.6M437.4,533.7L441,533.7" stroke="#585858" stroke-width="1.25" fill="none"/>
<circle cx="439.5" cy="538.8" r="1.4" fill="#555"/>
<text transform="translate(492.75,519.95) scale(0.8388,1)" x="-2.06" y="0" font-size="25.15" fill="#141414" stroke="#141414" stroke-width="0.55">L</text>
<text transform="translate(573.1,508.1) scale(1.0374,1)" x="-0.81" y="0" font-size="9.88" fill="#404040" stroke="#404040" stroke-width="0.15">FZD6 Expression</text>
<line x1="520.8" y1="531.3" x2="706.65" y2="531.3" stroke="#dcdcdc" stroke-width="1.3"/>
<line x1="706" y1="531.3" x2="706" y2="634.7" stroke="#dcdcdc" stroke-width="1.3"/>
<line x1="520.8" y1="531.3" x2="520.8" y2="634.7" stroke="#d4d4d4" stroke-width="1.1"/>
<line x1="520.8" y1="634.7" x2="706" y2="634.7" stroke="#d4d4d4" stroke-width="1.1"/>
<text stroke="#5e5e5e" stroke-width="0.4" transform="translate(506.05,637.7) scale(1.120,1)" x="-0.25" y="0" font-size="6.4" fill="#5e5e5e">0.0</text>
<line x1="520.8" y1="634.7" x2="523.3" y2="634.7" stroke="#d0d0d0" stroke-width="0.8"/>
<text stroke="#5e5e5e" stroke-width="0.4" transform="translate(506.08,611.85) scale(1.120,1)" x="-0.25" y="0" font-size="6.4" fill="#5e5e5e">0.3</text>
<line x1="520.8" y1="608.85" x2="523.3" y2="608.85" stroke="#d0d0d0" stroke-width="0.8"/>
<text stroke="#5e5e5e" stroke-width="0.4" transform="translate(506.07,586) scale(1.120,1)" x="-0.25" y="0" font-size="6.4" fill="#5e5e5e">0.5</text>
<line x1="520.8" y1="583" x2="523.3" y2="583" stroke="#d0d0d0" stroke-width="0.8"/>
<text stroke="#5e5e5e" stroke-width="0.4" transform="translate(506.08,560.15) scale(1.120,1)" x="-0.25" y="0" font-size="6.4" fill="#5e5e5e">0.8</text>
<line x1="520.8" y1="557.15" x2="523.3" y2="557.15" stroke="#d0d0d0" stroke-width="0.8"/>
<text stroke="#5e5e5e" stroke-width="0.4" transform="translate(506.31,534.3) scale(1.120,1)" x="-0.49" y="0" font-size="6.4" fill="#5e5e5e">1.0</text>
<line x1="520.8" y1="531.3" x2="523.3" y2="531.3" stroke="#d0d0d0" stroke-width="0.8"/>
<text stroke="#4c4c4c" stroke-width="0.3" transform="translate(492.7,605) rotate(-90) scale(0.9567,1)" x="-0.74" y="0" font-size="9.01" fill="#4c4c4c">FZD6/GAPDH</text>
<line x1="547.05" y1="602.6" x2="547.05" y2="599.2" stroke="#e0e0e0" stroke-width="1"/>
<line x1="540.25" y1="599.2" x2="553.85" y2="599.2" stroke="#e0e0e0" stroke-width="1"/>
<rect x="532.4" y="602.6" width="29.3" height="32.1" fill="#000"/>
<text transform="translate(536.09,646.2) scale(0.970,1)" x="-0.2" y="0" font-size="8.7" fill="#484848" stroke="#484848" stroke-width="0.45">TCPS</text>
<line x1="591.6" y1="589.5" x2="591.6" y2="585.8" stroke="#e0e0e0" stroke-width="1"/>
<line x1="584.8" y1="585.8" x2="598.4" y2="585.8" stroke="#e0e0e0" stroke-width="1"/>
<rect x="576.9" y="589.5" width="29.4" height="45.2" fill="#000"/>
<text transform="translate(586.65,646.2) scale(0.970,1)" x="-0.71" y="0" font-size="8.7" fill="#484848" stroke="#484848" stroke-width="0.45">PT</text>
<line x1="636.1" y1="568.7" x2="636.1" y2="561.8" stroke="#e0e0e0" stroke-width="1"/>
<line x1="629.3" y1="561.8" x2="642.9" y2="561.8" stroke="#e0e0e0" stroke-width="1"/>
<rect x="621.7" y="568.7" width="28.8" height="66" fill="#000"/>
<text transform="translate(628.32,646.2) scale(0.970,1)" x="-0.4" y="0" font-size="8.7" fill="#484848" stroke="#484848" stroke-width="0.45">SLA</text>
<line x1="680.2" y1="562" x2="680.2" y2="556" stroke="#e0e0e0" stroke-width="1"/>
<line x1="673.4" y1="556" x2="687" y2="556" stroke="#e0e0e0" stroke-width="1"/>
<rect x="665.9" y="562" width="28.6" height="72.7" fill="#000"/>
<text transform="translate(664.3,646.2) scale(0.970,1)" x="-0.58" y="0" font-size="8.7" fill="#484848" stroke="#484848" stroke-width="0.45">modSLA</text>
<path d="M635.7,547.6L634.8,552.8M637.4,547.6L636.5,552.8M634.6,549.2L638.2,549.2M634,551.3L637.6,551.3" stroke="#585858" stroke-width="1.25" fill="none"/>
<circle cx="636.1" cy="557.9" r="1.4" fill="#555"/>
<path d="M679.8,541.8L678.9,547M681.5,541.8L680.6,547M678.7,543.4L682.3,543.4M678.1,545.5L681.7,545.5" stroke="#585858" stroke-width="1.25" fill="none"/>
<circle cx="680.2" cy="551.7" r="1.4" fill="#555"/>
<path d="M29.8,680.7L31.7,663.9L37.7,679.8L44.4,663.9L46.2,680.7" stroke="#141414" stroke-width="2.2" fill="none" stroke-linejoin="round"/>
<text transform="translate(100.7,669.1) scale(1.0995,1)" x="-0.76" y="0" font-size="9.3" fill="#404040" stroke="#404040" stroke-width="0.15">FZD7 Expression</text>
<line x1="48.1" y1="692" x2="235.95" y2="692" stroke="#dcdcdc" stroke-width="1.3"/>
<line x1="235.3" y1="692" x2="235.3" y2="795.6" stroke="#dcdcdc" stroke-width="1.3"/>
<line x1="48.1" y1="692" x2="48.1" y2="795.6" stroke="#d4d4d4" stroke-width="1.1"/>
<line x1="48.1" y1="795.6" x2="235.3" y2="795.6" stroke="#d4d4d4" stroke-width="1.1"/>
<text stroke="#5e5e5e" stroke-width="0.4" transform="translate(34.25,798.6) scale(1.120,1)" x="-0.25" y="0" font-size="6.4" fill="#5e5e5e">0.0</text>
<line x1="48.1" y1="795.6" x2="50.6" y2="795.6" stroke="#d0d0d0" stroke-width="0.8"/>
<text stroke="#5e5e5e" stroke-width="0.4" transform="translate(34.33,772.7) scale(1.120,1)" x="-0.25" y="0" font-size="6.4" fill="#5e5e5e">0.2</text>
<line x1="48.1" y1="769.7" x2="50.6" y2="769.7" stroke="#d0d0d0" stroke-width="0.8"/>
<text stroke="#5e5e5e" stroke-width="0.4" transform="translate(34.18,746.8) scale(1.120,1)" x="-0.25" y="0" font-size="6.4" fill="#5e5e5e">0.4</text>
<line x1="48.1" y1="743.8" x2="50.6" y2="743.8" stroke="#d0d0d0" stroke-width="0.8"/>
<text stroke="#5e5e5e" stroke-width="0.4" transform="translate(34.28,720.9) scale(1.120,1)" x="-0.25" y="0" font-size="6.4" fill="#5e5e5e">0.6</text>
<line x1="48.1" y1="717.9" x2="50.6" y2="717.9" stroke="#d0d0d0" stroke-width="0.8"/>
<text stroke="#5e5e5e" stroke-width="0.4" transform="translate(34.28,695) scale(1.120,1)" x="-0.25" y="0" font-size="6.4" fill="#5e5e5e">0.8</text>
<line x1="48.1" y1="692" x2="50.6" y2="692" stroke="#d0d0d0" stroke-width="0.8"/>
<text stroke="#4c4c4c" stroke-width="0.3" transform="translate(22.3,766) rotate(-90) scale(0.9567,1)" x="-0.74" y="0" font-size="9.01" fill="#4c4c4c">FZD7/GAPDH</text>
<line x1="75.45" y1="766" x2="75.45" y2="758.5" stroke="#e0e0e0" stroke-width="1"/>
<line x1="68.65" y1="758.5" x2="82.25" y2="758.5" stroke="#e0e0e0" stroke-width="1"/>
<rect x="60.8" y="766" width="29.3" height="29.6" fill="#000"/>
<text transform="translate(64.49,807.1) scale(0.970,1)" x="-0.2" y="0" font-size="8.7" fill="#484848" stroke="#484848" stroke-width="0.45">TCPS</text>
<line x1="119.65" y1="760.9" x2="119.65" y2="757.4" stroke="#e0e0e0" stroke-width="1"/>
<line x1="112.85" y1="757.4" x2="126.45" y2="757.4" stroke="#e0e0e0" stroke-width="1"/>
<rect x="105" y="760.9" width="29.3" height="34.7" fill="#000"/>
<text transform="translate(114.7,807.1) scale(0.970,1)" x="-0.71" y="0" font-size="8.7" fill="#484848" stroke="#484848" stroke-width="0.45">PT</text>
<line x1="163.7" y1="742.7" x2="163.7" y2="737.8" stroke="#e0e0e0" stroke-width="1"/>
<line x1="156.9" y1="737.8" x2="170.5" y2="737.8" stroke="#e0e0e0" stroke-width="1"/>
<rect x="149" y="742.7" width="29.4" height="52.9" fill="#000"/>
<text transform="translate(155.92,807.1) scale(0.970,1)" x="-0.4" y="0" font-size="8.7" fill="#484848" stroke="#484848" stroke-width="0.45">SLA</text>
<line x1="208.25" y1="721.9" x2="208.25" y2="715.7" stroke="#e0e0e0" stroke-width="1"/>
<line x1="201.45" y1="715.7" x2="215.05" y2="715.7" stroke="#e0e0e0" stroke-width="1"/>
<rect x="193.6" y="721.9" width="29.3" height="73.7" fill="#000"/>
<text transform="translate(192.35,807.1) scale(0.970,1)" x="-0.58" y="0" font-size="8.7" fill="#484848" stroke="#484848" stroke-width="0.45">modSLA</text>
<path d="M163.3,724L162.4,729.2M165,724L164.1,729.2M162.2,725.6L165.8,725.6M161.6,727.7L165.2,727.7" stroke="#585858" stroke-width="1.25" fill="none"/>
<circle cx="163.7" cy="733" r="1.4" fill="#555"/>
<path d="M207.85,701.7L206.95,706.9M209.55,701.7L208.65,706.9M206.75,703.3L210.35,703.3M206.15,705.4L209.75,705.4" stroke="#585858" stroke-width="1.25" fill="none"/>
<circle cx="208.25" cy="711.3" r="1.4" fill="#555"/>
<text transform="translate(264.55,680.55) scale(0.9273,1)" x="-2.07" y="0" font-size="25.29" fill="#141414" stroke="#141414" stroke-width="0.55">N</text>
<text transform="translate(333.4,670.6) scale(1.1065,1)" x="-0.76" y="0" font-size="9.3" fill="#404040" stroke="#404040" stroke-width="0.15">FZD8 Expression</text>
<line x1="279.9" y1="692.8" x2="466.45" y2="692.8" stroke="#dcdcdc" stroke-width="1.3"/>
<line x1="465.8" y1="692.8" x2="465.8" y2="796.9" stroke="#dcdcdc" stroke-width="1.3"/>
<line x1="279.9" y1="692.8" x2="279.9" y2="796.9" stroke="#d4d4d4" stroke-width="1.1"/>
<line x1="279.9" y1="796.9" x2="465.8" y2="796.9" stroke="#d4d4d4" stroke-width="1.1"/>
<text stroke="#5e5e5e" stroke-width="0.4" transform="translate(266.05,799.9) scale(1.120,1)" x="-0.25" y="0" font-size="6.4" fill="#5e5e5e">0.0</text>
<line x1="279.9" y1="796.9" x2="282.4" y2="796.9" stroke="#d0d0d0" stroke-width="0.8"/>
<text stroke="#5e5e5e" stroke-width="0.4" transform="translate(266.08,773.88) scale(1.120,1)" x="-0.25" y="0" font-size="6.4" fill="#5e5e5e">0.3</text>
<line x1="279.9" y1="770.88" x2="282.4" y2="770.88" stroke="#d0d0d0" stroke-width="0.8"/>
<text stroke="#5e5e5e" stroke-width="0.4" transform="translate(266.07,747.85) scale(1.120,1)" x="-0.25" y="0" font-size="6.4" fill="#5e5e5e">0.5</text>
<line x1="279.9" y1="744.85" x2="282.4" y2="744.85" stroke="#d0d0d0" stroke-width="0.8"/>
<text stroke="#5e5e5e" stroke-width="0.4" transform="translate(266.08,721.83) scale(1.120,1)" x="-0.25" y="0" font-size="6.4" fill="#5e5e5e">0.8</text>
<line x1="279.9" y1="718.82" x2="282.4" y2="718.82" stroke="#d0d0d0" stroke-width="0.8"/>
<text stroke="#5e5e5e" stroke-width="0.4" transform="translate(266.31,695.8) scale(1.120,1)" x="-0.49" y="0" font-size="6.4" fill="#5e5e5e">1.0</text>
<line x1="279.9" y1="692.8" x2="282.4" y2="692.8" stroke="#d0d0d0" stroke-width="0.8"/>
<text stroke="#4c4c4c" stroke-width="0.3" transform="translate(252.3,766.7) rotate(-90) scale(0.9549,1)" x="-0.74" y="0" font-size="9.01" fill="#4c4c4c">FZD8/GAPDH</text>
<line x1="306.8" y1="752.7" x2="306.8" y2="748.5" stroke="#e0e0e0" stroke-width="1"/>
<line x1="300" y1="748.5" x2="313.6" y2="748.5" stroke="#e0e0e0" stroke-width="1"/>
<rect x="292.2" y="752.7" width="29.2" height="44.2" fill="#000"/>
<text transform="translate(295.84,808.4) scale(0.970,1)" x="-0.2" y="0" font-size="8.7" fill="#484848" stroke="#484848" stroke-width="0.45">TCPS</text>
<line x1="351.1" y1="751.6" x2="351.1" y2="746.7" stroke="#e0e0e0" stroke-width="1"/>
<line x1="344.3" y1="746.7" x2="357.9" y2="746.7" stroke="#e0e0e0" stroke-width="1"/>
<rect x="336.6" y="751.6" width="29" height="45.3" fill="#000"/>
<text transform="translate(346.15,808.4) scale(0.970,1)" x="-0.71" y="0" font-size="8.7" fill="#484848" stroke="#484848" stroke-width="0.45">PT</text>
<line x1="395.4" y1="731.2" x2="395.4" y2="724.8" stroke="#e0e0e0" stroke-width="1"/>
<line x1="388.6" y1="724.8" x2="402.2" y2="724.8" stroke="#e0e0e0" stroke-width="1"/>
<rect x="380.8" y="731.2" width="29.2" height="65.7" fill="#000"/>
<text transform="translate(387.62,808.4) scale(0.970,1)" x="-0.4" y="0" font-size="8.7" fill="#484848" stroke="#484848" stroke-width="0.45">SLA</text>
<line x1="439.3" y1="734.2" x2="439.3" y2="729" stroke="#e0e0e0" stroke-width="1"/>
<line x1="432.5" y1="729" x2="446.1" y2="729" stroke="#e0e0e0" stroke-width="1"/>
<rect x="425" y="734.2" width="28.6" height="62.7" fill="#000"/>
<text transform="translate(423.4,808.4) scale(0.970,1)" x="-0.58" y="0" font-size="8.7" fill="#484848" stroke="#484848" stroke-width="0.45">modSLA</text>
<path d="M395,710.7L394.1,715.9M396.7,710.7L395.8,715.9M393.9,712.3L397.5,712.3M393.3,714.4L396.9,714.4" stroke="#585858" stroke-width="1.25" fill="none"/>
<circle cx="395.4" cy="720.1" r="1.4" fill="#555"/>
<path d="M438.9,715.1L438,720.3M440.6,715.1L439.7,720.3M437.8,716.7L441.4,716.7M437.2,718.8L440.8,718.8" stroke="#585858" stroke-width="1.25" fill="none"/>
<circle cx="439.3" cy="724.3" r="1.4" fill="#555"/>
<text transform="translate(493.05,680.55) scale(0.8978,1)" x="-1.2" y="0" font-size="25.29" fill="#141414" stroke="#141414" stroke-width="0.55">O</text>
<text transform="translate(572.6,670.6) scale(1.1094,1)" x="-0.76" y="0" font-size="9.3" fill="#404040" stroke="#404040" stroke-width="0.15">FZD9 Expression</text>
<line x1="520.6" y1="692.8" x2="707.15" y2="692.8" stroke="#dcdcdc" stroke-width="1.3"/>
<line x1="706.5" y1="692.8" x2="706.5" y2="796.8" stroke="#dcdcdc" stroke-width="1.3"/>
<line x1="520.6" y1="692.8" x2="520.6" y2="796.8" stroke="#d4d4d4" stroke-width="1.1"/>
<line x1="520.6" y1="796.8" x2="706.5" y2="796.8" stroke="#d4d4d4" stroke-width="1.1"/>
<text stroke="#5e5e5e" stroke-width="0.4" transform="translate(505.85,799.8) scale(1.120,1)" x="-0.25" y="0" font-size="6.4" fill="#5e5e5e">0.0</text>
<line x1="520.6" y1="796.8" x2="523.1" y2="796.8" stroke="#d0d0d0" stroke-width="0.8"/>
<text stroke="#5e5e5e" stroke-width="0.4" transform="translate(505.93,765.13) scale(1.120,1)" x="-0.25" y="0" font-size="6.4" fill="#5e5e5e">0.2</text>
<line x1="520.6" y1="762.13" x2="523.1" y2="762.13" stroke="#d0d0d0" stroke-width="0.8"/>
<text stroke="#5e5e5e" stroke-width="0.4" transform="translate(505.78,730.47) scale(1.120,1)" x="-0.25" y="0" font-size="6.4" fill="#5e5e5e">0.4</text>
<line x1="520.6" y1="727.47" x2="523.1" y2="727.47" stroke="#d0d0d0" stroke-width="0.8"/>
<text stroke="#5e5e5e" stroke-width="0.4" transform="translate(505.88,695.8) scale(1.120,1)" x="-0.25" y="0" font-size="6.4" fill="#5e5e5e">0.6</text>
<line x1="520.6" y1="692.8" x2="523.1" y2="692.8" stroke="#d0d0d0" stroke-width="0.8"/>
<text stroke="#4c4c4c" stroke-width="0.3" transform="translate(493.7,766.7) rotate(-90) scale(0.9549,1)" x="-0.74" y="0" font-size="9.01" fill="#4c4c4c">FZD9/GAPDH</text>
<line x1="547.3" y1="713.6" x2="547.3" y2="707.2" stroke="#e0e0e0" stroke-width="1"/>
<line x1="540.5" y1="707.2" x2="554.1" y2="707.2" stroke="#e0e0e0" stroke-width="1"/>
<rect x="532.7" y="713.6" width="29.2" height="83.2" fill="#000"/>
<text transform="translate(536.34,808.3) scale(0.970,1)" x="-0.2" y="0" font-size="8.7" fill="#484848" stroke="#484848" stroke-width="0.45">TCPS</text>
<line x1="591.8" y1="742" x2="591.8" y2="735.7" stroke="#e0e0e0" stroke-width="1"/>
<line x1="585" y1="735.7" x2="598.6" y2="735.7" stroke="#e0e0e0" stroke-width="1"/>
<rect x="577.3" y="742" width="29" height="54.8" fill="#000"/>
<text transform="translate(586.85,808.3) scale(0.970,1)" x="-0.71" y="0" font-size="8.7" fill="#484848" stroke="#484848" stroke-width="0.45">PT</text>
<line x1="635.9" y1="746.9" x2="635.9" y2="742.4" stroke="#e0e0e0" stroke-width="1"/>
<line x1="629.1" y1="742.4" x2="642.7" y2="742.4" stroke="#e0e0e0" stroke-width="1"/>
<rect x="621.3" y="746.9" width="29.2" height="49.9" fill="#000"/>
<text transform="translate(628.12,808.3) scale(0.970,1)" x="-0.4" y="0" font-size="8.7" fill="#484848" stroke="#484848" stroke-width="0.45">SLA</text>
<line x1="680.2" y1="755.2" x2="680.2" y2="748.7" stroke="#e0e0e0" stroke-width="1"/>
<line x1="673.4" y1="748.7" x2="687" y2="748.7" stroke="#e0e0e0" stroke-width="1"/>
<rect x="665.9" y="755.2" width="28.6" height="41.6" fill="#000"/>
<text transform="translate(664.3,808.3) scale(0.970,1)" x="-0.58" y="0" font-size="8.7" fill="#484848" stroke="#484848" stroke-width="0.45">modSLA</text>
<circle cx="591.8" cy="731.2" r="1.4" fill="#555"/>
<circle cx="635.9" cy="738" r="1.4" fill="#555"/>
<circle cx="680.2" cy="743.8" r="1.4" fill="#555"/>
</g>
</svg></div>
</body></html>
